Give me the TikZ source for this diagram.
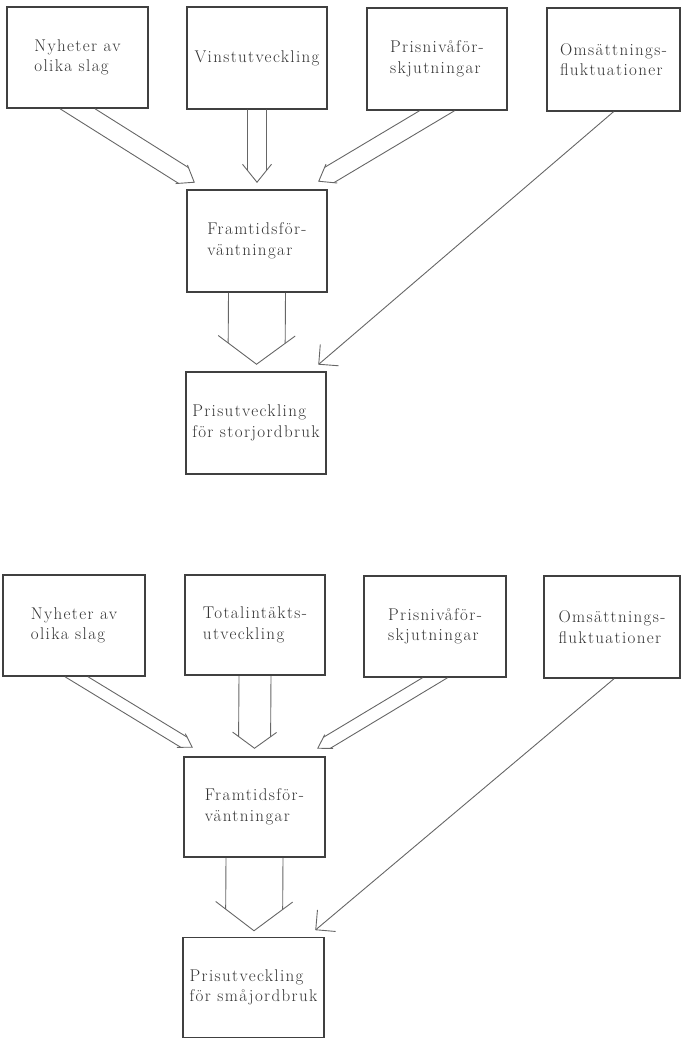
\documentclass[tikz,border=0pt]{standalone}
\usepackage{fontspec}
\setmainfont{Latin Modern Roman}[LetterSpace=8.0]
\usetikzlibrary{calc}
% hollow (double-line) arrow:
% #1 start centre (on box edge), #2 tip, #3 half horizontal gap of the two shafts on the edge,
% #4 head length, #5 head half width
\newcommand{\hollowarrow}[5]{%
  \pgfmathsetmacro{\hD}{sqrt((#4)*(#4)+(#5)*(#5))}%
  \pgfmathsetmacro{\hA}{atan((#5)/(#4))}%
  \coordinate (hM) at (#1);%
  \coordinate (hT) at (#2);%
  \coordinate (hSa) at ($(hM)+(-#3,0)$);%
  \coordinate (hSb) at ($(hM)+(#3,0)$);%
  \coordinate (hBa) at ($(hT)!\hD pt!\hA:(hM)$);%
  \coordinate (hBb) at ($(hT)!\hD pt!-\hA:(hM)$);%
  \coordinate (hQa) at ($(hSa)+(hT)-(hM)$);%
  \coordinate (hQb) at ($(hSb)+(hT)-(hM)$);%
  \draw[conn] (hBa) -- (hT) -- (hBb);%
  \draw[conn] (hSa) -- (intersection cs: first line={(hSa)--(hQa)}, second line={(hT)--(hBa)});%
  \draw[conn] (hSb) -- (intersection cs: first line={(hSb)--(hQb)}, second line={(hT)--(hBb)});%
}
\newcommand{\linearrow}[2]{%
  \draw[conn] (#1) -- (#2);%
  \draw[conn] ($(#2)!20pt!45:(#1)$) -- (#2) -- ($(#2)!20pt!-45:(#1)$);%
}
\begin{document}
\begin{tikzpicture}[x=1pt,y=-1pt,
  box/.style={draw=black!75,line width=1.5pt,inner sep=0pt,align=left,text=black!80,
              font=\fontsize{17}{20.5}\selectfont},
  conn/.style={draw=black!60,line width=0.9pt}]
\clip (0,0) rectangle (681,1038);

% ---------- upper diagram ----------
\node[box,minimum width=141pt,minimum height=101pt] (a1) at (77.5,57.5) {Nyheter av\\olika slag};
\node[box,minimum width=140pt,minimum height=102pt] (a2) at (257,58) {Vinstutveckling};
\node[box,minimum width=140pt,minimum height=102pt] (a3) at (437,59) {Prisnivåför-\\skjutningar};
\node[box,minimum width=133pt,minimum height=103pt] (a4) at (613.5,59.5) {Omsättnings-\\fluktuationer};
\node[box,minimum width=140pt,minimum height=102pt] (f1) at (257,241) {Framtidsför-\\väntningar};
\node[box,minimum width=140pt,minimum height=102pt] (p1) at (256,423) {Prisutveckling\\för storjordbruk};

\coordinate (ta1) at ($(f1.north west)+(8,-7)$);
\coordinate (ta2) at ($(f1.north)+(0,-7)$);
\coordinate (ta3) at ($(f1.north east)+(-9,-8)$);
\coordinate (ta4) at ($(p1.north east)+(-8,-7)$);
\coordinate (tf1) at ($(p1.north)+(0.5,-7)$);

\hollowarrow{a1.south}{ta1}{17.5}{15}{11}
\hollowarrow{a2.south}{ta2}{9.5}{18}{14.5}
\hollowarrow{a3.south}{ta3}{17.5}{15}{11}
\hollowarrow{f1.south}{tf1}{28.5}{28.5}{38.5}
\linearrow{a4.south}{ta4}

% ---------- lower diagram ----------
\node[box,minimum width=142pt,minimum height=101pt] (b1) at (74,625.5) {Nyheter av\\olika slag};
\node[box,minimum width=140pt,minimum height=100pt] (b2) at (255,625) {Totalintäkts-\\utveckling};
\node[box,minimum width=142pt,minimum height=101pt] (b3) at (435,626.5) {Prisnivåför-\\skjutningar};
\node[box,minimum width=136pt,minimum height=102pt] (b4) at (612,627) {Omsättnings-\\fluktuationer};
\node[box,minimum width=141pt,minimum height=100pt] (f2) at (254.5,807) {Framtidsför-\\väntningar};
\node[box,minimum width=141pt,minimum height=100pt] (p2) at (253.5,987.5) {Prisutveckling\\för småjordbruk};

\coordinate (sb1) at ($(b1.south)+(2.5,0)$);
\coordinate (sb4) at ($(b4.south)+(2,0)$);
\coordinate (tb1) at ($(f2.north west)+(9,-9)$);
\coordinate (tb2) at ($(f2.north)+(0,-8)$);
\coordinate (tb3) at ($(f2.north east)+(-8,-8)$);
\coordinate (tb4) at ($(p2.north east)+(-9,-7)$);
\coordinate (tf2) at ($(p2.north)+(0.5,-6)$);

\hollowarrow{sb1}{tb1}{11.5}{13}{8}
\hollowarrow{b2.south}{tb2}{16}{16}{22}
\hollowarrow{b3.south}{tb3}{12.5}{13}{8}
\hollowarrow{f2.south}{tf2}{28.5}{29}{38.5}
\linearrow{sb4}{tb4}
\end{tikzpicture}
\end{document}
